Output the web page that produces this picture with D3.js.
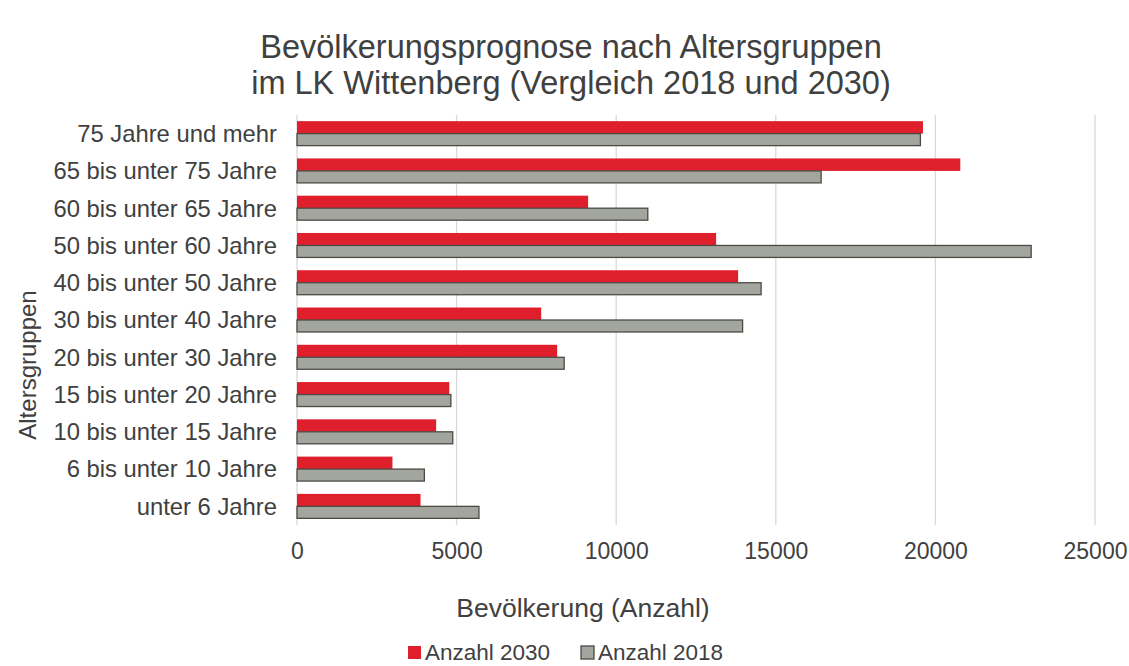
<!DOCTYPE html>
<html><head><meta charset="utf-8">
<script src="https://cdn.jsdelivr.net/npm/d3@7"></script>
<style>body{margin:0;background:#fff}svg{display:block}text{font-family:"Liberation Sans",Arial,sans-serif;fill:#404040}</style>
</head><body><svg id="c" width="1129" height="666"></svg>
<script>
const categories = ["75 Jahre und mehr","65 bis unter 75 Jahre","60 bis unter 65 Jahre","50 bis unter 60 Jahre","40 bis unter 50 Jahre","30 bis unter 40 Jahre","20 bis unter 30 Jahre","15 bis unter 20 Jahre","10 bis unter 15 Jahre","6 bis unter 10 Jahre","unter 6 Jahre"];
const values2030 = [19610,20780,9120,13130,13820,7650,8150,4770,4360,2990,3870];
const values2018 = [19530,16420,10990,23000,14540,13960,8370,4820,4880,3990,5700];
const seriesNames = ["Anzahl 2030","Anzahl 2018"];
const xTicks = [0,5000,10000,15000,20000,25000];
const titleLines = ["Bevölkerungsprognose nach Altersgruppen","im LK Wittenberg (Vergleich 2018 und 2030)"];

const svg = d3.select("#c");
const m = {left:297, right:1095, top:115, bottom:525};
const x = d3.scaleLinear().domain([0,25000]).range([m.left,m.right]);
const y = d3.scaleBand().domain(categories).range([m.top,m.bottom]).paddingInner(0.33).paddingOuter(0.165);
const sub = d3.scaleBand().domain(seriesNames).range([0,y.bandwidth()]);
const colors = {"Anzahl 2030":"#e01f2c","Anzahl 2018":"#a3a69e"};

// grid
svg.append("g").selectAll("line").data(xTicks).join("line")
  .attr("x1",d=>x(d)).attr("x2",d=>x(d)).attr("y1",m.top).attr("y2",m.bottom)
  .attr("stroke","#d9d9d9").attr("stroke-width",1.3);

const groups = svg.append("g").selectAll("g").data(categories).join("g")
  .attr("transform",d=>`translate(0,${y(d)})`);
groups.append("rect").attr("x",x(0)).attr("y",sub("Anzahl 2030"))
  .attr("width",(d,i)=>x(values2030[i])-x(0)).attr("height",sub.bandwidth())
  .attr("fill",colors["Anzahl 2030"]);
groups.append("rect").attr("x",x(0)).attr("y",sub("Anzahl 2018"))
  .attr("width",(d,i)=>x(values2018[i])-x(0)).attr("height",sub.bandwidth()-0.5)
  .attr("fill",colors["Anzahl 2018"]).attr("stroke","#4b4b45").attr("stroke-width",1.3);

// y labels
svg.append("g").selectAll("text").data(categories).join("text")
  .attr("x",277).attr("y",d=>y(d)+y.bandwidth()/2).attr("dy","0.35em")
  .attr("text-anchor","end").attr("font-size",23.8).text(d=>d);

// x tick labels
const xAxis = d3.axisBottom(x).tickValues(xTicks).tickSize(0).tickPadding(0).tickFormat(d3.format("d"));
const ax = svg.append("g").attr("transform","translate(0,559)").call(xAxis);
ax.select(".domain").remove();
ax.selectAll("text").attr("font-size",23).attr("fill","#404040").attr("dy",0).attr("font-family","Liberation Sans, Arial, sans-serif");

// titles
svg.selectAll(".title").data(titleLines).join("text").attr("class","title")
  .attr("x",571).attr("y",(d,i)=>58+i*36).attr("text-anchor","middle").attr("font-size",32.5).text(d=>d);
svg.append("text").attr("x",583).attr("y",617).attr("text-anchor","middle").attr("font-size",26.5).text("Bevölkerung (Anzahl)");
svg.append("text").attr("transform","translate(36,365) rotate(-90)").attr("text-anchor","middle").attr("font-size",24).text("Altersgruppen");

// legend
const legX = [408,581];
const lg = svg.append("g").selectAll("g").data(seriesNames).join("g").attr("transform",(d,i)=>`translate(${legX[i]},646)`);
lg.append("rect").attr("width",13).attr("height",13).attr("fill",d=>colors[d])
  .attr("stroke",(d,i)=>i?"#4b4b45":"none").attr("stroke-width",1.3);
lg.append("text").attr("x",17).attr("y",14).attr("font-size",22.5).text(d=>d);
</script></body></html>
